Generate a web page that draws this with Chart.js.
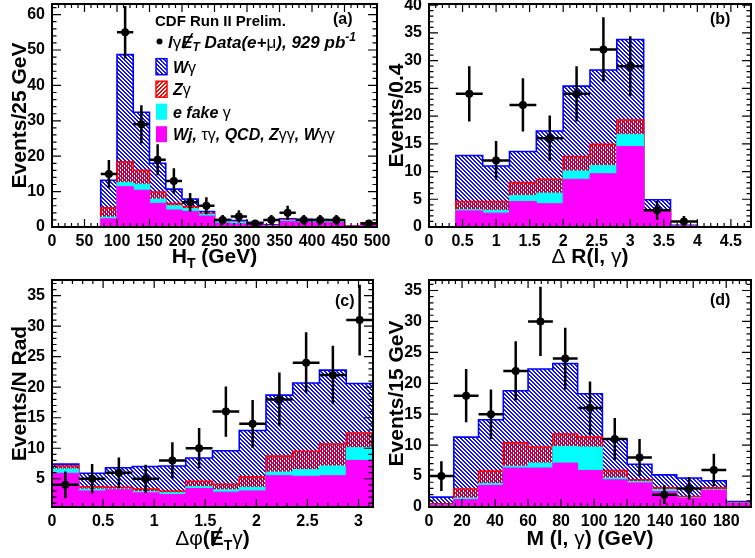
<!DOCTYPE html>
<html>
<head>
<meta charset="utf-8">
<script src="https://cdn.jsdelivr.net/npm/chart.js@4.4.0/dist/chart.umd.min.js"></script>
<style>
  body { margin: 0; background: #fff; width: 755px; height: 558px; position: relative; overflow: hidden; }
  canvas { position: absolute; }
</style>
</head>
<body>
<canvas id="pa" width="395" height="275" style="left:0;top:0"></canvas>
<canvas id="pb" width="378" height="275" style="left:377px;top:0"></canvas>
<canvas id="pc" width="395" height="283" style="left:0;top:275px"></canvas>
<canvas id="pd" width="378" height="283" style="left:377px;top:275px"></canvas>
<script>
var FAM = "'Liberation Sans', Arial, Helvetica, sans-serif";

// (a) H_T, 25 GeV bins starting at 0
var htLo = 0, htW = 25;
var htData  = [0, 0, 0, 15, 55, 29, 19, 13, 7, 6, 2, 3, 1, 2, 4, 2, 2, 2, 0, 1];
var htErr   = [0, 0, 0, 3.9, 7.4, 5.4, 4.4, 3.6, 2.6, 2.4, 1.4, 1.7, 1, 1.4, 2, 1.4, 1.4, 1.4, 0, 1];
var htWg    = [0, 0, 0, 7.8, 30.3, 16.4, 8.1, 4.1, 2.2, 0.6, 0.4, 0.3, 0.2, 0.1, 0.3, 0.3, 0.4, 0.4, 0, 0.1];
var htZg    = [0, 0, 0, 2.6, 5.8, 3.9, 2.0, 0.6, 0.5, 0.2, 0.1, 0.1, 0.1, 0.1, 0.1, 0.1, 0.1, 0.1, 0.1, 0.1];
var htEfake = [0, 0, 0, 0.5, 1.2, 1.7, 1.2, 1.2, 0.8, 0.5, 0.5, 0.5, 0.3, 0.1, 0.3, 0.4, 0.3, 0.3, 0, 0];
var htOther = [0, 0, 0, 2.3, 11.4, 10.4, 6.7, 4.8, 4.4, 3.1, 1.1, 0.9, 0.7, 0.3, 1.6, 1.4, 1.3, 1.2, 0.1, 1.0];

// (b) delta R(l, gamma), bins of 0.4
var drLo = 0, drW = 0.4;
var drData  = [0, 24, 12, 22, 16, 24, 32, 29, 3, 1, 0, 0];
var drErr   = [0, 5, 3.5, 4.8, 4.1, 5, 5.8, 5.4, 1.7, 1, 0, 0];
var drWg    = [0, 8.3, 6.4, 5.6, 8.7, 12.7, 13.4, 14.5, 1.8, 0.1, 0, 0];
var drZg    = [0, 1.5, 1.6, 2.3, 2.5, 2.6, 3.8, 2.6, 0.2, 0, 0, 0];
var drEfake = [0, 0.2, 0.5, 1.1, 1.9, 1.5, 1.5, 2.2, 0.1, 0, 0, 0];
var drOther = [0, 2.9, 2.5, 4.6, 4.2, 8.6, 9.6, 14.5, 2.8, 0.2, 0, 0];

// (c) delta phi(MET, gamma), 12 bins over 0..pi
var dpLo = 0, dpW = Math.PI / 12;
var dpData  = [4, 5, 6, 5, 8, 10, 16, 14, 18, 24, 22, 31];
var dpErr   = [2.2, 2.4, 2.5, 2.3, 3, 3.3, 4.1, 3.9, 4.4, 5, 4.8, 5.8];
var dpWg    = [0.3, 2.2, 3.2, 3.7, 4.1, 3.8, 5.5, 7.6, 10.0, 11.2, 12.1, 8.1];
var dpZg    = [0.5, 0.4, 0.3, 0.4, 0.3, 0.9, 0.9, 1.7, 2.6, 3.0, 3.6, 2.4];
var dpEfake = [0.7, 0.3, 0.1, 0.2, 0.3, 0.3, 0.4, 0.6, 0.6, 1.1, 1.6, 2.1];
var dpOther = [5.9, 3.0, 3.2, 2.7, 2.4, 3.4, 2.8, 3.0, 5.5, 5.4, 5.5, 8.0];

// (d) M(l, gamma), 15 GeV bins
var mLo = 0, mW = 15;
var mData  = [5, 18, 15, 22, 30, 24, 16, 11, 8, 2, 3, 6, 0];
var mErr   = [2.4, 4.3, 4, 4.8, 5.6, 5, 4.3, 3.4, 3, 1.5, 1.8, 2.6, 0];
var mWg    = [1.1, 8.4, 8.3, 8.4, 12.6, 11.4, 7.0, 5.1, 2.5, 2.1, 3.0, 1.15, 0.2];
var mZg    = [0.2, 1.45, 2.0, 3.8, 2.6, 2.0, 1.6, 1.2, 0.3, 0.3, 0.15, 0.3, 0.05];
var mEfake = [0, 0.25, 0.3, 0.3, 0.8, 2.7, 3.8, 0.3, 0.2, 0.3, 0.1, 0.1, 0.05];
var mOther = [0.3, 1.2, 3.5, 6.3, 6.3, 7.1, 5.9, 4.4, 3.9, 2.5, 1.45, 2.7, 0.6];

// crisp pixel hatch patterns, transparent like ROOT hatches
function hatch(color, up) {
  var c = document.createElement('canvas');
  c.width = 4; c.height = 4;
  var g = c.getContext('2d');
  g.fillStyle = color;
  for (var y = 0; y < 4; y++) {
    var x = up ? 3 - y : y;
    g.fillRect(x, y, 1, 1);
    g.fillRect((x + 1) % 4, y, 1, 1);
  }
  return g.createPattern(c, 'repeat');
}
var blueHatch = hatch('#1010ff', false);
var redHatch = hatch('#ff0000', true);

function add(a, b) {
  return a.map(function (v, i) { return v + b[i]; });
}

// points at bin edges, drawn with stepped lines
function stepPoints(lo, w, vals) {
  var pts = [{x: lo, y: 0}];
  for (var i = 0; i < vals.length; i++) pts.push({x: lo + i * w, y: vals[i]});
  pts.push({x: lo + vals.length * w, y: 0});
  return pts;
}

function runFont(r, size) {
  var s = (r.sub || r.sup) ? Math.round(size * 0.68) : size;
  return (r.i ? 'italic ' : '') + (r.n ? '' : 'bold ') + s + 'px ' + FAM;
}

function drawRuns(ctx, runs, x, y, size, align) {
  var widths = [], total = 0;
  runs.forEach(function (r) {
    ctx.font = runFont(r, size);
    var w = ctx.measureText(r.t).width;
    widths.push(w);
    total += w;
  });
  if (align === 'center') x -= total / 2;
  runs.forEach(function (r, i) {
    ctx.font = runFont(r, size);
    var dy = r.sub ? size * 0.22 : (r.sup ? -size * 0.4 : 0);
    ctx.fillText(r.t, x, y + dy);
    if (r.slash) {
      ctx.lineWidth = size / 11;
      ctx.beginPath();
      ctx.moveTo(x + widths[i] * 0.2, y + size * 0.05);
      ctx.lineTo(x + widths[i] * (r.i ? 1.0 : 0.8), y - size * 0.85);
      ctx.stroke();
    }
    x += widths[i];
  });
}

var errorBars = {
  id: 'errorBars',
  beforeDatasetDraw: function (chart, args) {
    var ds = chart.data.datasets[args.index];
    if (!ds.yErr) return;
    var xs = chart.scales.x, ys = chart.scales.y, ctx = chart.ctx, a = chart.chartArea;
    ctx.save();
    ctx.beginPath();
    ctx.rect(a.left, a.top, a.right - a.left, a.bottom - a.top);
    ctx.clip();
    ctx.strokeStyle = '#000';
    ctx.lineWidth = 2.5;
    ctx.beginPath();
    ds.data.forEach(function (p, i) {
      var y = ys.getPixelForValue(p.y);
      ctx.moveTo(xs.getPixelForValue(p.x - ds.xHalf), y);
      ctx.lineTo(xs.getPixelForValue(p.x + ds.xHalf), y);
      var x = xs.getPixelForValue(p.x);
      ctx.moveTo(x, ys.getPixelForValue(p.y - ds.yErr[i]));
      ctx.lineTo(x, ys.getPixelForValue(p.y + ds.yErr[i]));
    });
    ctx.stroke();
    ctx.restore();
  }
};

function axisTicks(scale, fn) {
  var minor = scale.options.ticks.stepSize / 5;
  var k0 = Math.ceil(scale.min / minor - 1e-6), k1 = Math.floor(scale.max / minor + 1e-6);
  for (var k = k0; k <= k1; k++) fn(scale.getPixelForValue(k * minor), k % 5 === 0);
}

var frameTicks = {
  id: 'frameTicks',
  afterDraw: function (chart) {
    var a = chart.chartArea, ctx = chart.ctx;
    ctx.save();
    ctx.strokeStyle = '#000';
    ctx.lineWidth = 1.2;
    ctx.beginPath();
    axisTicks(chart.scales.x, function (px, major) {
      var l = major ? 8 : 4;
      ctx.moveTo(px, a.bottom); ctx.lineTo(px, a.bottom - l);
      ctx.moveTo(px, a.top); ctx.lineTo(px, a.top + l);
    });
    axisTicks(chart.scales.y, function (py, major) {
      var l = major ? 9 : 4.5;
      ctx.moveTo(a.left, py); ctx.lineTo(a.left + l, py);
      ctx.moveTo(a.right, py); ctx.lineTo(a.right - l, py);
    });
    ctx.stroke();
    ctx.lineWidth = 2;
    ctx.strokeRect(a.left, a.top, a.right - a.left, a.bottom - a.top);
    ctx.restore();
  }
};

var legendRows = [
  [{t: 'W', i: 1}, {t: 'γ', n: 1}],
  [{t: 'Z', i: 1}, {t: 'γ', n: 1}],
  [{t: 'e fake ', i: 1}, {t: 'γ', n: 1}],
  [{t: 'Wj, ', i: 1}, {t: 'τγ', n: 1}, {t: ', QCD, Z', i: 1}, {t: 'γγ', n: 1}, {t: ', W', i: 1}, {t: 'γγ', n: 1}]
];

function drawLegend(ctx) {
  ctx.font = 'bold 15px ' + FAM;
  ctx.fillText('CDF Run II Prelim.', 155, 26);
  ctx.beginPath();
  ctx.arc(159.5, 41.5, 3, 0, Math.PI * 2);
  ctx.fill();
  drawRuns(ctx, [{t: 'l', i: 1}, {t: 'γ', n: 1}, {t: 'E', i: 1, slash: 1}, {t: 'T', i: 1, sub: 1},
    {t: ' Data(e+', i: 1}, {t: 'μ', n: 1}, {t: '), 929 pb', i: 1}, {t: '-1', i: 1, sup: 1}], 168, 47.5, 17, 'left');
  var fills = [blueHatch, redHatch, '#00ffff', '#ff00ff'];
  var edges = ['#0000ff', '#ff0000', null, null];
  legendRows.forEach(function (runs, k) {
    var cy = 66.7 + k * 22.5;
    ctx.fillStyle = '#fff';
    ctx.fillRect(156, cy - 8, 11, 16);
    ctx.fillStyle = fills[k];
    ctx.fillRect(156, cy - 8, 11, 16);
    if (edges[k]) {
      ctx.strokeStyle = edges[k];
      ctx.lineWidth = 1.5;
      ctx.strokeRect(156, cy - 8, 11, 16);
    }
    ctx.fillStyle = '#000';
    ctx.strokeStyle = '#000';
    drawRuns(ctx, runs, 173, cy + 6, 16, 'left');
  });
}

function panelText(p) {
  return {
    id: 'panelText',
    afterDraw: function (chart) {
      var a = chart.chartArea, ctx = chart.ctx;
      ctx.save();
      ctx.fillStyle = '#000';
      ctx.strokeStyle = '#000';
      ctx.textBaseline = 'alphabetic';
      drawRuns(ctx, p.xTitle, (a.left + a.right) / 2, a.bottom + p.xTitleDy, 21, 'center');
      drawRuns(ctx, [{t: p.tag}], p.tagX, p.tagY, 16, 'left');
      if (p.legend) drawLegend(ctx);
      ctx.restore();
    }
  };
}

// ROOT style numbers: 0.5, 1, 1.5 rather than 0.5, 1.0, 1.5
function plainNumber(v) {
  return String(Math.round(v * 100) / 100);
}

function makePanel(p) {
  var other = p.other, efake = add(other, p.efake), zg = add(efake, p.zg), wg = add(zg, p.wg);
  var pts = [], errs = [];
  p.data.forEach(function (n, i) {
    if (n > 0) {
      pts.push({x: p.lo + (i + 0.5) * p.w, y: n});
      errs.push(p.err[i]);
    }
  });
  function hist(label, vals, fill, line, lw, order) {
    return {label: label, data: stepPoints(p.lo, p.w, vals), stepped: true, fill: 'origin',
      backgroundColor: fill, borderColor: line, borderWidth: lw, pointRadius: 0, order: order};
  }
  var tickFont = {family: FAM, size: 16, weight: 'bold'};
  new Chart(document.getElementById(p.id), {
    type: 'line',
    data: {
      datasets: [
        hist('Wγ', wg, blueHatch, '#0000ff', 1.6, 4),
        hist('Zγ', zg, redHatch, '#ff0000', 1.6, 3),
        hist('e fake γ', efake, '#00ffff', '#00ffff', 1, 2),
        hist('Wj, τγ, QCD, Zγγ, Wγγ', other, '#ff00ff', '#ff00ff', 1, 1),
        {label: 'Data', data: pts, yErr: errs, xHalf: p.w / 2, showLine: false, order: 0,
          pointRadius: 4, pointBackgroundColor: '#000', pointBorderColor: '#000', pointBorderWidth: 0}
      ]
    },
    options: {
      responsive: false,
      animation: false,
      events: [],
      layout: {padding: p.pad},
      plugins: {legend: {display: false}, tooltip: {enabled: false}},
      scales: {
        x: {
          type: 'linear', min: p.xMin, max: p.xMax,
          grid: {display: false, drawTicks: false}, border: {display: false},
          ticks: {stepSize: p.xStep, includeBounds: false, autoSkip: false, maxRotation: 0,
            padding: 5, color: '#000', font: tickFont, callback: plainNumber},
          afterFit: function (s) { s.height = p.xAxisH; s.paddingLeft = 0; s.paddingRight = 0; }
        },
        y: {
          type: 'linear', min: p.yMin, max: p.yMax,
          grid: {display: false, drawTicks: false}, border: {display: false},
          ticks: {stepSize: p.yStep, includeBounds: false, padding: 7, color: '#000', font: tickFont,
            callback: plainNumber},
          title: {display: true, text: p.yTitle, color: '#000', padding: {top: 8, bottom: 0},
            font: {family: FAM, size: 21, weight: 'bold'}},
          afterFit: function (s) { s.width = 52; s.paddingTop = 0; s.paddingBottom = 0; }
        }
      }
    },
    plugins: [errorBars, frameTicks, panelText(p)]
  });
}

makePanel({id: 'pa', lo: htLo, w: htW, data: htData, err: htErr,
  wg: htWg, zg: htZg, efake: htEfake, other: htOther,
  xMin: 0, xMax: 500, xStep: 50, yMin: 0, yMax: 63, yStep: 10,
  yTitle: 'Events/25 GeV', xTitle: [{t: 'H'}, {t: 'T', sub: 1}, {t: ' (GeV)'}],
  pad: {left: 0, top: 1, right: 18, bottom: 0}, xAxisH: 48, xTitleDy: 36,
  tag: '(a)', tagX: 333, tagY: 24, legend: true});

makePanel({id: 'pb', lo: drLo, w: drW, data: drData, err: drErr,
  wg: drWg, zg: drZg, efake: drEfake, other: drOther,
  xMin: 0, xMax: 4.8, xStep: 0.5, yMin: 0, yMax: 40.2, yStep: 5,
  yTitle: 'Events/0.4', xTitle: [{t: 'Δ', n: 1}, {t: ' R(l, '}, {t: 'γ', n: 1}, {t: ')'}],
  pad: {left: 0, top: 1.5, right: 3, bottom: 0}, xAxisH: 48, xTitleDy: 36,
  tag: '(b)', tagX: 333, tagY: 24});

makePanel({id: 'pc', lo: dpLo, w: dpW, data: dpData, err: dpErr,
  wg: dpWg, zg: dpZg, efake: dpEfake, other: dpOther,
  xMin: 0, xMax: Math.PI, xStep: 0.5, yMin: 0.37, yMax: 37.57, yStep: 5,
  yTitle: 'Events/N Rad',
  xTitle: [{t: 'Δφ', n: 1}, {t: '('}, {t: 'E', slash: 1}, {t: 'T', sub: 1}, {t: 'γ', n: 1}, {t: ')'}],
  pad: {left: 0, top: 5, right: 22, bottom: 0}, xAxisH: 51, xTitleDy: 38,
  tag: '(c)', tagX: 335, tagY: 30.5});

makePanel({id: 'pd', lo: mLo, w: mW, data: mData, err: mErr,
  wg: mWg, zg: mZg, efake: mEfake, other: mOther,
  xMin: 0, xMax: 195, xStep: 20, yMin: 0, yMax: 36.7, yStep: 5,
  yTitle: 'Events/15 GeV', xTitle: [{t: 'M (l, '}, {t: 'γ', n: 1}, {t: ') (GeV)'}],
  pad: {left: 0, top: 5, right: 3, bottom: 0}, xAxisH: 51, xTitleDy: 38,
  tag: '(d)', tagX: 333, tagY: 30});
</script>
</body>
</html>
